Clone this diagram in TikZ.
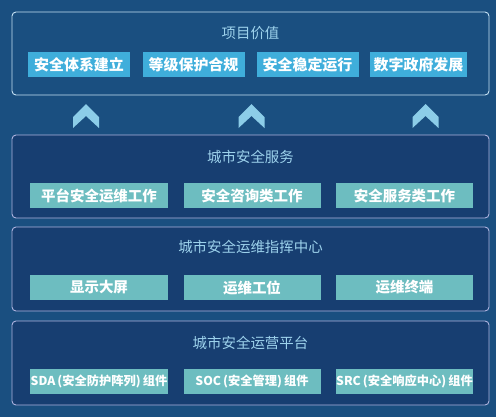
\documentclass[tikz,border=0pt]{standalone}
\usepackage{fontspec}
\setmainfont{Noto Sans CJK SC}
\definecolor{bg}{HTML}{1A4F80}
\definecolor{navy}{HTML}{173E71}
\definecolor{bordA}{HTML}{C6E2F4}
\definecolor{bordB}{HTML}{AEB3DF}
\definecolor{valbox}{HTML}{3FAEDB}
\definecolor{tealbox}{HTML}{6DBDC0}
\definecolor{titlec}{HTML}{9DD2EC}
\definecolor{chev}{HTML}{8CCDE8}
\tikzset{
  layerA/.style={draw=bordA, line width=0.9bp, rounded corners=4bp, fill=bg},
  layerB/.style={draw=bordB, line width=0.9bp, rounded corners=4bp, fill=navy},
  ttl/.style={text=titlec, font=\fontsize{14.5}{16}\selectfont, inner sep=0pt},
  valnode/.style={fill=valbox, text=white, font=\fontsize{15}{17}\selectfont\bfseries, minimum width=102bp, minimum height=25bp, inner sep=0pt},
  tealnode/.style={fill=tealbox, text=white, font=\fontsize{14.5}{17}\selectfont\bfseries, minimum width=137bp, minimum height=25bp, inner sep=0pt},
  tealsmall/.style={tealnode, font=\fontsize{12.3}{14}\selectfont\bfseries},
  chevron/.style={fill=chev, draw=none}
}
\begin{document}
\begin{tikzpicture}[x=1bp,y=-1bp]
\useasboundingbox (0,0) rectangle (496,417);
\fill[bg] (0,0) rectangle (496,417);
% layer 1
\draw[layerA] (12,12) rectangle (489,95);
\node[ttl] (t1) at (250.5,33) {项目价值};
\node[valnode] (v1) at (79,64.5) {安全体系建立};
\node[valnode] (v2) at (193.5,64.5) {等级保护合规};
\node[valnode] (v3) at (307.5,64.5) {安全稳定运行};
\node[valnode, minimum width=97bp] (v4) at (418.5,64.5) {数字政府发展};
% chevrons
\foreach \cx in {86,251.5,425.5}{
  \fill[chevron] (\cx,104) -- ++(13,13) -- ++(0,11) -- ++(-13,-12) -- ++(-13,12) -- ++(0,-11) -- cycle;
}
% layer 2
\draw[layerB] (12,135) rectangle (489,218);
\node[ttl] (t2) at (250.5,157) {城市安全服务};
\node[tealnode] (s1) at (99,195.5) {平台安全运维工作};
\node[tealnode] (s2) at (252,195.5) {安全咨询类工作};
\node[tealnode] (s3) at (404.5,195.5) {安全服务类工作};
% layer 3
\draw[layerB] (12,227) rectangle (489,311);
\node[ttl] (t3) at (250.5,247) {城市安全运维指挥中心};
\node[tealnode] (c1) at (99,287.5) {显示大屏};
\node[tealnode] (c2) at (252,287.5) {运维工位};
\node[tealnode] (c3) at (404.5,287.5) {运维终端};
% layer 4
\draw[layerB] (12,321) rectangle (489,405);
\node[ttl] (t4) at (250.5,343) {城市安全运营平台};
\node[tealsmall] (p1) at (99,381) {SDA\,(安全防护阵列)\,组件};
\node[tealsmall] (p2) at (252,381) {SOC\,(安全管理)\,组件};
\node[tealsmall] (p3) at (404.5,381) {SRC\,(安全响应中心)\,组件};
\end{tikzpicture}
\end{document}
